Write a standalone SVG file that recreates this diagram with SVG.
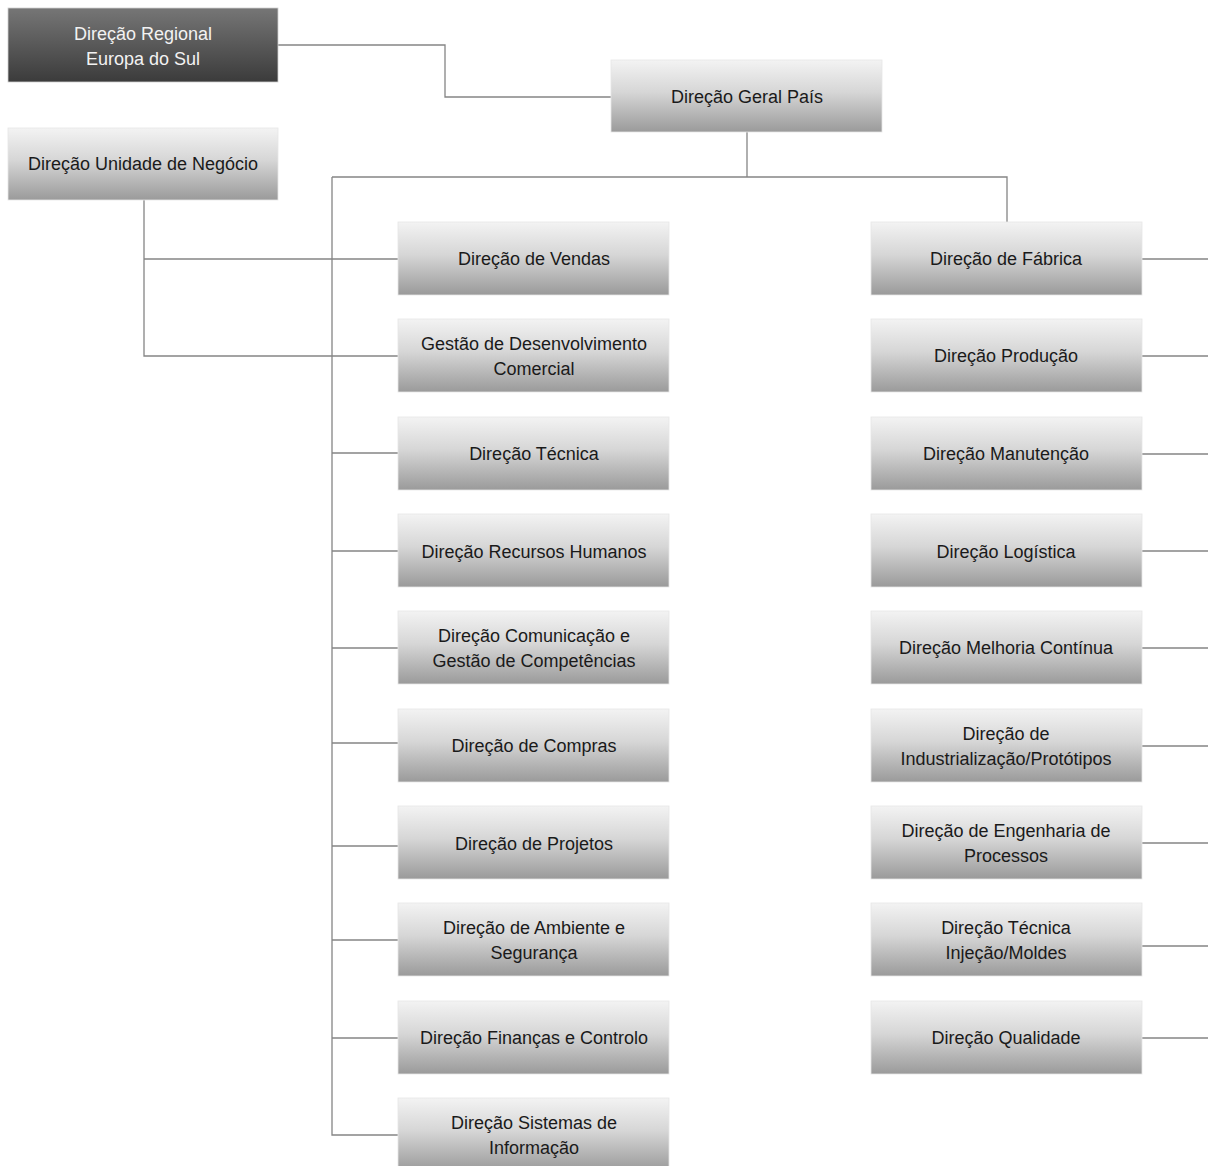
<svg xmlns="http://www.w3.org/2000/svg" width="1208" height="1166" viewBox="0 0 1208 1166">
  <style>
    .box { fill: url(#light); stroke: #e6e6e6; stroke-width: 0.8; }
    .dark { fill: url(#dark); stroke: #d0d0d0; stroke-width: 0.8; }
    .lbl { font-family: "Liberation Sans", Arial, sans-serif; font-size: 18px; fill: #1a1a1a; text-anchor: middle; }
    .lblw { font-family: "Liberation Sans", Arial, sans-serif; font-size: 18px; fill: #f2f2f2; text-anchor: middle; }
    .ln { fill: none; stroke: #858585; stroke-width: 1.3; }
  </style>
  <defs>
    <linearGradient id="light" x1="0" y1="0" x2="0" y2="1">
      <stop offset="0" stop-color="#f3f3f3"/>
      <stop offset="0.45" stop-color="#d6d6d6"/>
      <stop offset="1" stop-color="#9a9a9a"/>
    </linearGradient>
    <linearGradient id="dark" x1="0" y1="0" x2="0" y2="1">
      <stop offset="0" stop-color="#767676"/>
      <stop offset="1" stop-color="#3b3b3b"/>
    </linearGradient>
  </defs>
  <rect width="1208" height="1166" fill="#ffffff"/>

  <!-- connectors -->
  <g id="connectors">
    <polyline class="ln" points="278,45 445,45 445,97 611,97"/>
    <polyline class="ln" points="747,132 747,177"/>
    <polyline class="ln" points="332,177 1007,177 1007,222"/>
    <polyline class="ln" points="332,177 332,1135 398,1135"/>
    <polyline class="ln" points="144,200 144,356 398,356"/>
    <line class="ln" x1="144" y1="259" x2="398" y2="259"/>
    <line class="ln" x1="332" y1="453" x2="398" y2="453"/>
    <line class="ln" x1="332" y1="551" x2="398" y2="551"/>
    <line class="ln" x1="332" y1="648" x2="398" y2="648"/>
    <line class="ln" x1="332" y1="743" x2="398" y2="743"/>
    <line class="ln" x1="332" y1="846" x2="398" y2="846"/>
    <line class="ln" x1="332" y1="940" x2="398" y2="940"/>
    <line class="ln" x1="332" y1="1038" x2="398" y2="1038"/>
    <line class="ln" x1="1142" y1="259" x2="1208" y2="259"/>
    <line class="ln" x1="1142" y1="356" x2="1208" y2="356"/>
    <line class="ln" x1="1142" y1="454" x2="1208" y2="454"/>
    <line class="ln" x1="1142" y1="551" x2="1208" y2="551"/>
    <line class="ln" x1="1142" y1="648" x2="1208" y2="648"/>
    <line class="ln" x1="1142" y1="746" x2="1208" y2="746"/>
    <line class="ln" x1="1142" y1="843" x2="1208" y2="843"/>
    <line class="ln" x1="1142" y1="946" x2="1208" y2="946"/>
    <line class="ln" x1="1142" y1="1038" x2="1208" y2="1038"/>
  </g>

  <!-- top level -->
  <g id="n-regional">
    <rect class="dark" x="8" y="8" width="270" height="74"/>
    <text class="lblw" x="143" y="40">Direção Regional</text>
    <text class="lblw" x="143" y="65">Europa do Sul</text>
  </g>
  <g id="n-unidade">
    <rect class="box" x="8" y="128" width="270" height="72"/>
    <text class="lbl" x="143" y="170">Direção Unidade de Negócio</text>
  </g>
  <g id="n-geral">
    <rect class="box" x="611" y="60" width="271" height="72"/>
    <text class="lbl" x="747" y="103">Direção Geral País</text>
  </g>

  <!-- left column -->
  <g id="n-vendas">
    <rect class="box" x="398" y="222" width="271" height="73"/>
    <text class="lbl" x="534" y="265">Direção de Vendas</text>
  </g>
  <g id="n-gestao">
    <rect class="box" x="398" y="319" width="271" height="73"/>
    <text class="lbl" x="534" y="350">Gestão de Desenvolvimento</text>
    <text class="lbl" x="534" y="375">Comercial</text>
  </g>
  <g id="n-tecnica">
    <rect class="box" x="398" y="417" width="271" height="73"/>
    <text class="lbl" x="534" y="460">Direção Técnica</text>
  </g>
  <g id="n-rh">
    <rect class="box" x="398" y="514" width="271" height="73"/>
    <text class="lbl" x="534" y="558">Direção Recursos Humanos</text>
  </g>
  <g id="n-comunicacao">
    <rect class="box" x="398" y="611" width="271" height="73"/>
    <text class="lbl" x="534" y="642">Direção Comunicação e</text>
    <text class="lbl" x="534" y="667">Gestão de Competências</text>
  </g>
  <g id="n-compras">
    <rect class="box" x="398" y="709" width="271" height="73"/>
    <text class="lbl" x="534" y="752">Direção de Compras</text>
  </g>
  <g id="n-projetos">
    <rect class="box" x="398" y="806" width="271" height="73"/>
    <text class="lbl" x="534" y="850">Direção de Projetos</text>
  </g>
  <g id="n-ambiente">
    <rect class="box" x="398" y="903" width="271" height="73"/>
    <text class="lbl" x="534" y="934">Direção de Ambiente e</text>
    <text class="lbl" x="534" y="959">Segurança</text>
  </g>
  <g id="n-financas">
    <rect class="box" x="398" y="1001" width="271" height="73"/>
    <text class="lbl" x="534" y="1044">Direção Finanças e Controlo</text>
  </g>
  <g id="n-sistemas">
    <rect class="box" x="398" y="1098" width="271" height="73"/>
    <text class="lbl" x="534" y="1129">Direção Sistemas de</text>
    <text class="lbl" x="534" y="1154">Informação</text>
  </g>

  <!-- right column -->
  <g id="n-fabrica">
    <rect class="box" x="871" y="222" width="271" height="73"/>
    <text class="lbl" x="1006" y="265">Direção de Fábrica</text>
  </g>
  <g id="n-producao">
    <rect class="box" x="871" y="319" width="271" height="73"/>
    <text class="lbl" x="1006" y="362">Direção Produção</text>
  </g>
  <g id="n-manutencao">
    <rect class="box" x="871" y="417" width="271" height="73"/>
    <text class="lbl" x="1006" y="460">Direção Manutenção</text>
  </g>
  <g id="n-logistica">
    <rect class="box" x="871" y="514" width="271" height="73"/>
    <text class="lbl" x="1006" y="558">Direção Logística</text>
  </g>
  <g id="n-melhoria">
    <rect class="box" x="871" y="611" width="271" height="73"/>
    <text class="lbl" x="1006" y="654">Direção Melhoria Contínua</text>
  </g>
  <g id="n-industrializacao">
    <rect class="box" x="871" y="709" width="271" height="73"/>
    <text class="lbl" x="1006" y="740">Direção de</text>
    <text class="lbl" x="1006" y="765">Industrialização/Protótipos</text>
  </g>
  <g id="n-engenharia">
    <rect class="box" x="871" y="806" width="271" height="73"/>
    <text class="lbl" x="1006" y="837">Direção de Engenharia de</text>
    <text class="lbl" x="1006" y="862">Processos</text>
  </g>
  <g id="n-injecao">
    <rect class="box" x="871" y="903" width="271" height="73"/>
    <text class="lbl" x="1006" y="934">Direção Técnica</text>
    <text class="lbl" x="1006" y="959">Injeção/Moldes</text>
  </g>
  <g id="n-qualidade">
    <rect class="box" x="871" y="1001" width="271" height="73"/>
    <text class="lbl" x="1006" y="1044">Direção Qualidade</text>
  </g>
</svg>
